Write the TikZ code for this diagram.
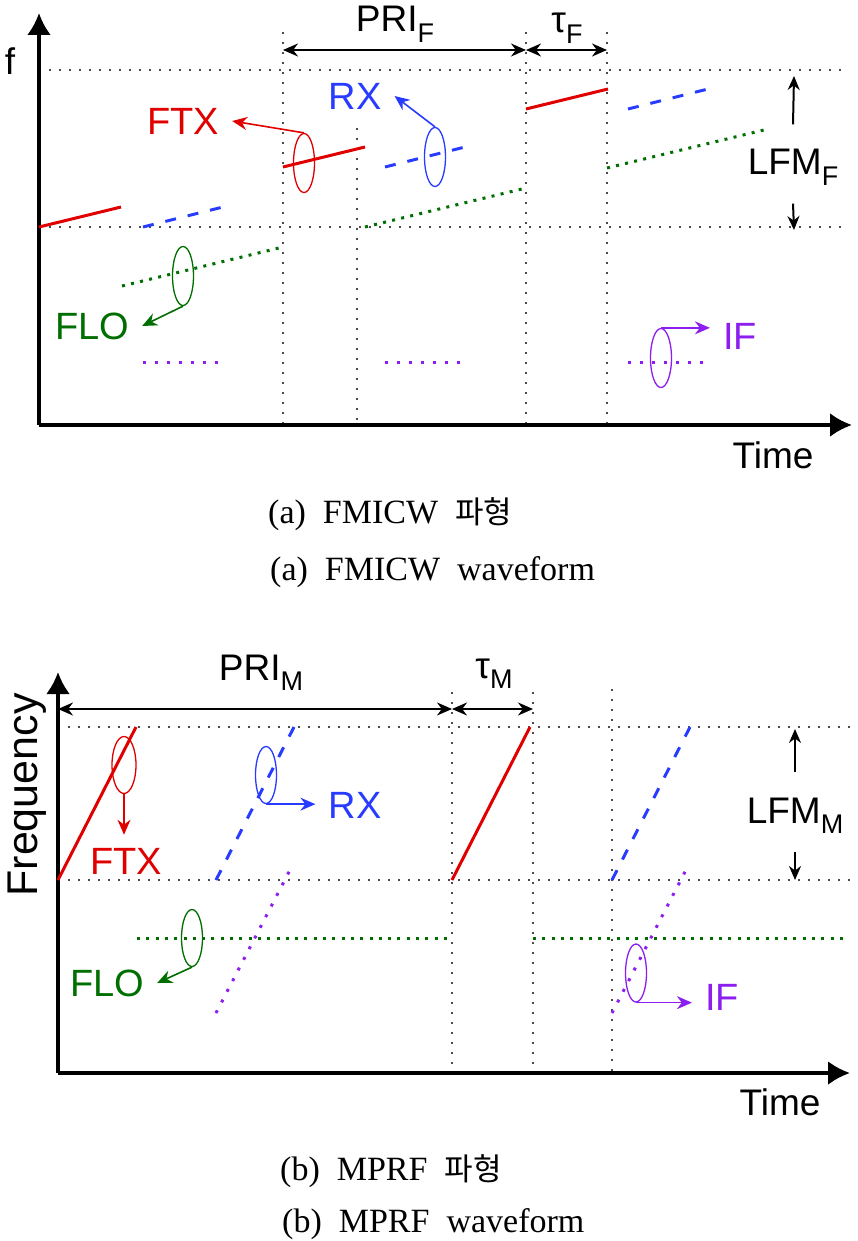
\documentclass[tikz,border=0pt]{standalone}
\usepackage{fontspec}
\setmainfont{Liberation Serif}
\setsansfont{Liberation Sans}
\newfontfamily\krfont{Noto Sans CJK KR}
\usetikzlibrary{shapes.geometric, arrows.meta}

\definecolor{ftxred}{RGB}{225,0,0}
\definecolor{rxblue}{RGB}{40,60,255}
\definecolor{flogreen}{RGB}{0,110,0}
\definecolor{ifviolet}{RGB}{140,30,240}

\newcommand{\lowsub}[1]{\raisebox{-0.28em}{\fontsize{27}{27}\selectfont #1}}

\tikzset{
  guide/.style={draw=black!70, line width=1.7pt, dash pattern=on 1.7pt off 8.3pt},
  axis/.style={line width=3.5pt, -{Latex[length=22pt,width=24pt]}},
  span/.style={line width=2pt, {Stealth[length=15pt,width=13pt]}-{Stealth[length=15pt,width=13pt]}},
  bar/.style={line width=2pt, -{Stealth[length=14pt,width=12pt]}},
  ftx/.style={ftxred, line width=3pt},
  rx/.style={rxblue, line width=3pt, dash pattern=on 11pt off 12pt},
  flo/.style={flogreen, line width=3pt, dash pattern=on 3pt off 6.3pt},
  ifs/.style={ifviolet, line width=3pt, dash pattern=on 3pt off 9pt},
  ring/.style={ellipse, draw, line width=1.3pt, minimum width=21pt, minimum height=59pt, inner sep=0pt},
  pointer/.style={line width=1.6pt, -{Stealth[length=15pt,width=13pt]}},
  tag/.style={font=\sffamily\fontsize{38}{40}\selectfont, inner sep=13pt},
  axlabel/.style={font=\sffamily\fontsize{37}{40}\selectfont, inner sep=0pt},
  capline/.style={font=\fontsize{34}{36}\selectfont, anchor=base west, inner sep=0pt}
}

\begin{document}
\begin{tikzpicture}[x=1pt, y=-1pt]
  \useasboundingbox (0,0) rectangle (857,1241);

  %%% (a) FMICW waveform
  % Guides
  \draw[guide] (39,70) -- (845,70);
  \draw[guide] (39,227) -- (845,227);
  \draw[guide] (283,32) -- (283,425);
  \draw[guide] (357,128) -- (357,425);
  \draw[guide] (526,32) -- (526,425);
  \draw[guide] (607,32) -- (607,425);
  % Axes
  \draw[axis] (39,425) -- (39,13);
  \draw[axis] (39,425) -- (852,425);
  \node[axlabel, anchor=base] at (10,75) {f};
  \node[axlabel, anchor=base] at (773,468) {Time};
  % Intervals
  \coordinate (pa) at (283,50);
  \coordinate (pb) at (526,50);
  \coordinate (pc) at (607,50);
  \draw[span] (pa) -- (pb);
  \draw[span] (pb) -- (pc);
  \node[axlabel, anchor=base] at (395,32) {PRI\lowsub{F}};
  \node[axlabel, anchor=base] at (567,33) {τ\lowsub{F}};
  \coordinate (ftop) at (794,76);
  \coordinate (fbot) at (794,230);
  \node[axlabel, anchor=base, inner ysep=18pt] (lfmf) at (793,175) {LFM\lowsub{F}};
  \draw[bar] ([yshift=7pt]lfmf.north) -- (ftop);
  \draw[bar] (lfmf.south) -- (fbot);
  % Signals
  \foreach \x/\y in {39/227, 283/167, 526/109}
    \draw[ftx] (\x,\y) -- ++(82,-20);
  \foreach \x/\y in {143/227, 385/167, 628/109}
    \draw[rx] (\x,\y) -- ++(80,-20);
  \foreach \x/\y in {122/286, 365/227, 607/168}
    \draw[flo] (\x,\y) -- ++(161,-39);
  \foreach \x in {143, 385, 628}
    \draw[ifs] (\x,362) -- ++(76,0);
  % Markers
  \node[ring, ftxred] (ftxa) at (304,163) {};
  \node[tag, text=ftxred] (ftxatag) at (183,121) {FTX};
  \draw[pointer, ftxred] (ftxa.north) -- (ftxatag.east);
  \node[ring, rxblue] (rxa) at (435,157) {};
  \node[tag, text=rxblue] (rxatag) at (355,96) {RX};
  \draw[pointer, rxblue] (rxa.north) -- (rxatag.east);
  \node[ring, flogreen] (floa) at (183,276) {};
  \node[tag, text=flogreen] (floatag) at (92,326) {FLO};
  \draw[pointer, flogreen] (floa.south) -- (floatag.east);
  \node[ring, ifviolet] (ifa) at (661,358) {};
  \node[tag, text=ifviolet] (ifatag) at (740,336) {IF};
  \draw[pointer, ifviolet] (ifa.north) -- (ifa.north -| ifatag.west);
  % Caption
  \node[capline] at (268,523) {(a)~~FMICW~~{\krfont\fontsize{31}{33}\selectfont 파형}};
  \node[capline] at (270,580) {(a)~~FMICW~~waveform};

  %%% (b) MPRF waveform
  % Guides
  \draw[guide] (58,727) -- (855,727);
  \draw[guide] (58,880) -- (855,880);
  \draw[guide] (452,692) -- (452,1073);
  \draw[guide] (533,692) -- (533,1073);
  \draw[guide] (612,689) -- (612,1073);
  % Axes
  \draw[axis] (58,1073) -- (58,672);
  \draw[axis] (58,1073) -- (850,1073);
  \node[axlabel, rotate=90, font=\sffamily\fontsize{43}{46}\selectfont] at (27,795) {Frequency};
  \node[axlabel, anchor=base] at (780,1115) {Time};
  % Intervals
  \coordinate (ma) at (58,709);
  \coordinate (mb) at (452,709);
  \coordinate (mc) at (533,709);
  \draw[span] (ma) -- (mb);
  \draw[span] (mb) -- (mc);
  \node[axlabel, anchor=base] at (261,680) {PRI\lowsub{M}};
  \node[axlabel, anchor=base] at (494,678) {τ\lowsub{M}};
  \coordinate (mtop) at (795,729);
  \coordinate (mbot) at (795,880);
  \node[axlabel, anchor=base, inner ysep=18pt] (lfmm) at (795,823) {LFM\lowsub{M}};
  \draw[bar] ([yshift=7pt]lfmm.north) -- (mtop);
  \draw[bar] (lfmm.south) -- (mbot);
  % Signals
  \foreach \x in {58, 452}
    \draw[ftx] (\x,880) -- ++(78,-153);
  \foreach \x in {216, 612}
    \draw[rx] (\x,880) -- ++(78,-153);
  \draw[flo] (137,938) -- (450,938);
  \draw[flo] (533,938) -- (847,938);
  \foreach \x in {216, 612}
    \draw[ifs] (\x,1013) -- ++(75,-145);
  % Markers
  \node[ring, ftxred, minimum width=24pt, minimum height=57pt] (ftxb) at (124,765) {};
  \node[tag, text=ftxred] (ftxbtag) at (126,861) {FTX};
  \draw[pointer, ftxred] (ftxb.south) -- (ftxb.south |- ftxbtag.north);
  \node[ring, rxblue, minimum height=57pt] (rxb) at (266,775) {};
  \node[tag, text=rxblue] (rxbtag) at (355,805) {RX};
  \draw[pointer, rxblue] (rxb.south) -- (rxb.south -| rxbtag.west);
  \node[ring, flogreen, minimum height=57pt] (flob) at (192,938) {};
  \node[tag, text=flogreen] (flobtag) at (107,983) {FLO};
  \draw[pointer, flogreen] (flob.south) -- (flobtag.east);
  \node[ring, ifviolet, minimum height=58pt] (ifb) at (636,973) {};
  \node[tag, text=ifviolet] (ifbtag) at (722,997) {IF};
  \draw[pointer, ifviolet] (ifb.south) -- (ifb.south -| ifbtag.west);
  % Caption
  \node[capline] at (280,1180) {(b)~~MPRF~~{\krfont\fontsize{31}{33}\selectfont 파형}};
  \node[capline] at (282,1232) {(b)~~MPRF~~waveform};
\end{tikzpicture}
\end{document}
